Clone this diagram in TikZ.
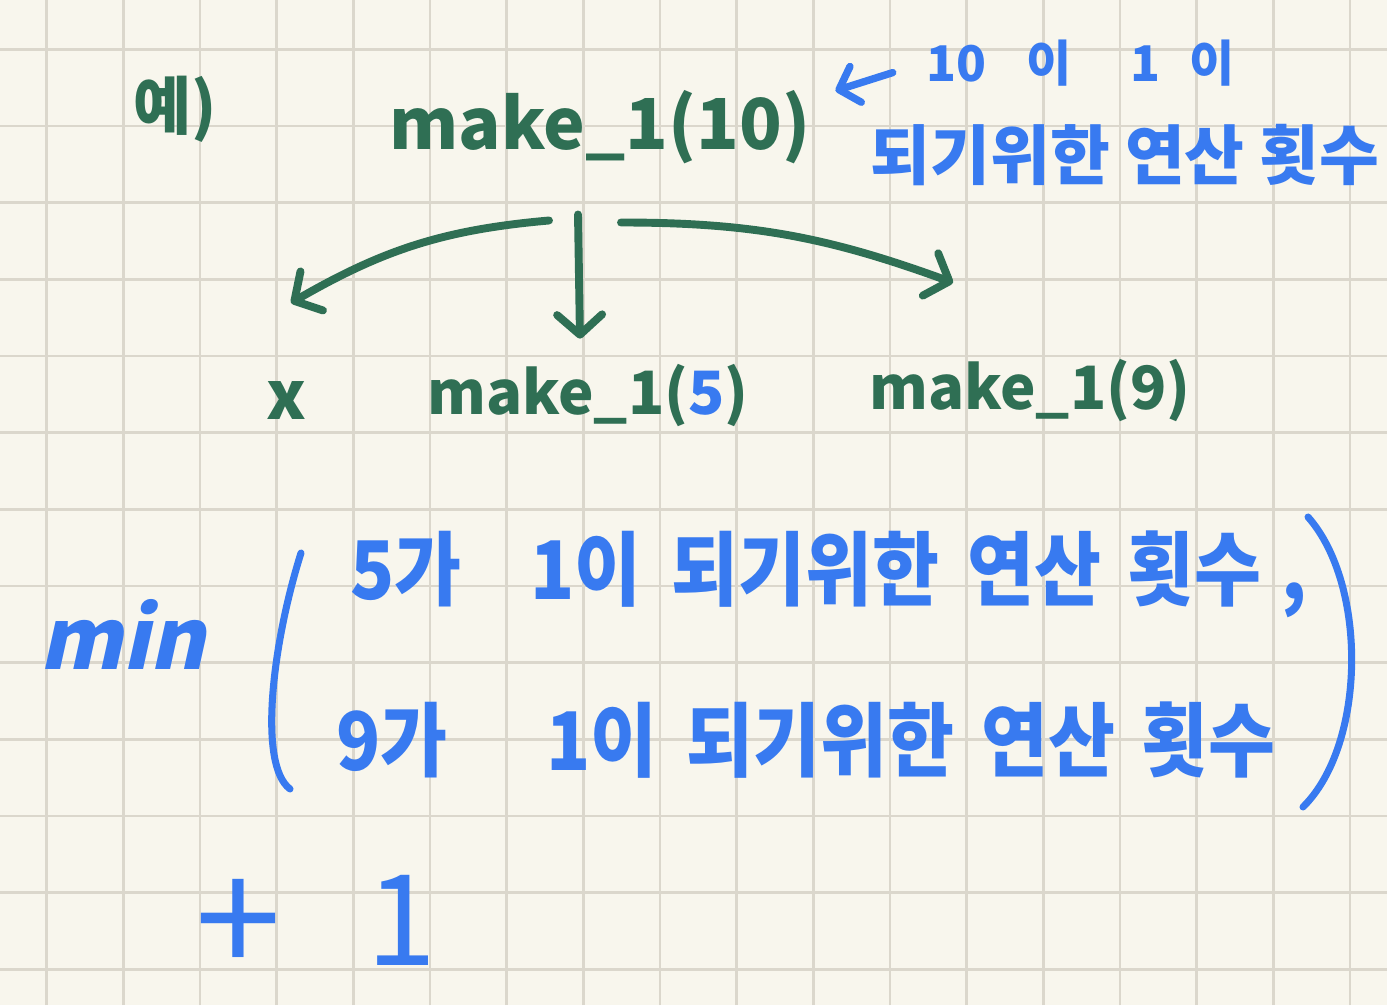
\documentclass[tikz,border=0pt]{standalone}
\usepackage{fontspec}
\setmainfont{Noto Sans CJK KR}
\newfontfamily\slantfont{Noto Sans CJK KR}[FakeSlant=0.22]
\newfontfamily\narrowfont{Noto Sans CJK KR}[FakeStretch=0.9]
\usetikzlibrary{arrows.meta}
\definecolor{paper}{RGB}{248,246,237}
\definecolor{gridgray}{RGB}{219,215,204}
\definecolor{inkgreen}{RGB}{47,111,84}
\definecolor{inkblue}{RGB}{56,122,240}
\newcommand{\inksize}[1]{\fontsize{#1}{#1}\selectfont\bfseries}

\begin{document}
\begin{tikzpicture}[
    x=0.02cm, y=0.02cm,
    gridline/.style={draw=gridgray, line width=1.5pt},
    gnote/.style={text=inkgreen, inner sep=1pt, anchor=base},
    bnote/.style={text=inkblue, inner sep=1pt, anchor=base},
    garrow/.style={draw=inkgreen, line width=4.5pt, line cap=round,
                   -{Straight Barb[length=4mm, width=9mm, round]}},
    barrow/.style={draw=inkblue, line width=4.2pt, line cap=round,
                   -{Straight Barb[length=3.5mm, width=7.5mm, round]}},
    paren/.style={draw=inkblue, line width=4pt, line cap=round}
]
    \useasboundingbox (0,0) rectangle (1387,1005);
    \fill[paper] (0,0) rectangle (1387,1005);
    \foreach \i in {0,...,17}
        \draw[gridline] ({46.7+76.67*\i},0) -- ({46.7+76.67*\i},1005);
    \foreach \i in {0,...,12}
        \draw[gridline] (0,{955.7-76.67*\i}) -- (1387,{955.7-76.67*\i});

    \node[gnote, font=\inksize{36pt}] (ex) at (175,875) {예)};
    \node[gnote, font=\inksize{40pt}] (top) at (600,855) {make\_1(10)};
    \node[bnote, font=\inksize{28pt}] (note1) at (1081,923)
        {10\hspace{0.8em}이\hspace{1.2em}1\hspace{0.6em}이};
    \node[bnote, font=\inksize{37pt}] (note2) at (1125,825) {되기위한 연산 횟수};

    \node[gnote, font=\inksize{38pt}] (cx) at (286,585) {x};
    \node[gnote, font=\inksize{34pt}] (m5) at (588,590) {make\_1(\textcolor{inkblue}{5})};
    \node[gnote, font=\inksize{34pt}] (m9) at (1030,595) {make\_1(9)};

    \node[bnote, font=\slantfont\inksize{48pt}] (min) at (122,335) {min};
    \node[bnote, font=\narrowfont\inksize{46pt}, anchor=base west] (l5) at (348,405)
        {5가\hspace{1.38cm}1이\hspace{0.6cm}되기위한\hspace{0.57cm}연산\hspace{0.53cm}횟수\hspace{0.4cm},};
    \node[bnote, font=\narrowfont\inksize{46pt}, anchor=base west] (l9) at (334,235)
        {9가\hspace{1.98cm}1이\hspace{0.58cm}되기위한\hspace{0.55cm}연산\hspace{0.53cm}횟수};
    \node[bnote, font=\fontsize{88pt}{88pt}\selectfont] (plus) at (238,30) {+};
    \node[bnote, font=\fontsize{72pt}{72pt}\selectfont] (one) at (402,40) {1};

    \draw[barrow] ([xshift=-0.64cm, yshift=-0.18cm]note1.west)
        -- ([xshift=0.46cm, yshift=-0.04cm]top.north east);
    \draw[garrow] ([xshift=-1.02cm, yshift=-1.08cm]top.south)
        to[out=185, in=30] ([xshift=0.1cm, yshift=1.54cm]cx.north);
    \draw[garrow] ([xshift=-0.44cm, yshift=-0.96cm]top.south)
        -- ([xshift=-0.16cm, yshift=0.48cm]m5.north);
    \draw[garrow] ([xshift=0.42cm, yshift=-1.12cm]top.south)
        to[out=0, in=160] ([xshift=-1.54cm, yshift=1.5cm]m9.north);

    \draw[paren] (301,452) .. controls (272,360) and (258,240) .. (290,216);
    \draw[paren] (1308,488) .. controls (1368,420) and (1366,260) .. (1303,198);
\end{tikzpicture}
\end{document}
